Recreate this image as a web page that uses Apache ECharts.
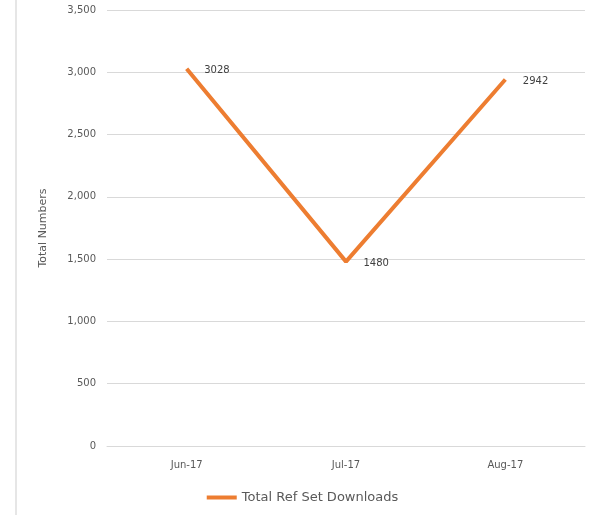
<!DOCTYPE html>
<html>
<head>
<meta charset="utf-8">
<script src="https://cdn.jsdelivr.net/npm/echarts@6/dist/echarts.min.js"></script>
<style>
  html, body { margin: 0; padding: 0; background: #fff; }
  #main { width: 605px; height: 515px; }
</style>
</head>
<body>
<div id="main"></div>
<script>
const months = ['Jun-17', 'Jul-17', 'Aug-17'];
const downloads = [3028, 1480, 2942];
const seriesName = 'Total Ref Set Downloads';
const axisTitle = 'Total Numbers';
const lineColor = '#ED7D31';

const chart = echarts.init(document.getElementById('main'), null, { renderer: 'canvas' });

const option = {
  animation: false,
  textStyle: { fontFamily: 'DejaVu Sans, sans-serif' },
  graphic: [{ // left border of the chart area
    type: 'rect',
    shape: { x: 15, y: 0, width: 2, height: 515 },
    style: { fill: '#e6e6e6' },
    silent: true
  }],
  grid: { left: 107, right: 20, top: 10, bottom: 69, containLabel: false },
  legend: {
    bottom: 6,
    left: 'center',
    itemWidth: 30,
    itemHeight: 4,
    itemGap: 6,
    icon: 'rect',
    itemStyle: { color: lineColor, borderWidth: 0 },
    textStyle: { color: '#595959', fontSize: 13 },
    data: [seriesName]
  },
  xAxis: {
    type: 'category',
    data: months,
    boundaryGap: true,
    axisLine: { lineStyle: { color: '#d9d9d9', width: 1 } },
    axisTick: { show: false },
    axisLabel: { color: '#595959', fontSize: 10, margin: 14 }
  },
  yAxis: {
    type: 'value',
    min: 0,
    max: 3500,
    interval: 500,
    name: axisTitle,
    nameLocation: 'middle',
    nameGap: 58,
    nameTextStyle: { color: '#595959', fontSize: 11 },
    axisLine: { show: false },
    axisTick: { show: false },
    axisLabel: {
      color: '#595959',
      fontSize: 10,
      margin: 11,
      formatter: v => v.toLocaleString('en-US')
    },
    splitLine: { lineStyle: { color: '#d9d9d9', width: 1 } }
  },
  series: [{
    name: seriesName,
    type: 'line',
    data: downloads,
    symbol: 'circle',
    symbolSize: 1,
    showSymbol: true,
    lineStyle: { color: lineColor, width: 4 },
    itemStyle: { color: 'rgba(0,0,0,0)', borderWidth: 0 },
    label: {
      show: true,
      position: 'right',
      distance: 17,
      offset: [0, 2],
      color: '#404040',
      fontSize: 10
    }
  }]
};

chart.setOption(option);
</script>
</body>
</html>
